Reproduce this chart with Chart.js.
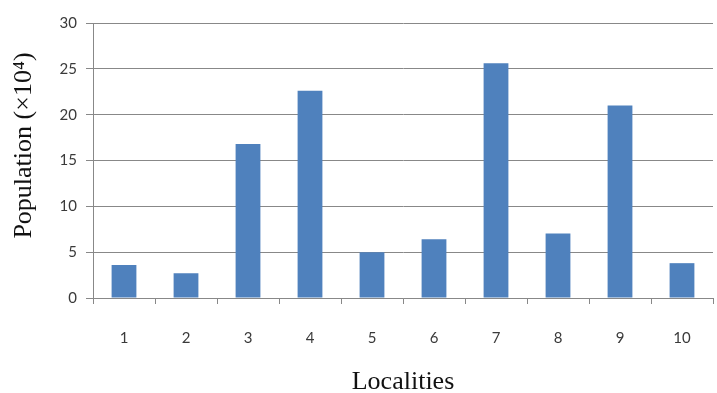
<!DOCTYPE html>
<html>
<head>
<meta charset="utf-8">
<script src="https://cdn.jsdelivr.net/npm/chart.js@4"></script>
<style>
html,body{margin:0;padding:0;background:#fff;}
#wrap{width:717px;height:393px;position:relative;}
</style>
</head>
<body>
<div id="wrap"><canvas id="c" width="717" height="393"></canvas></div>
<script>
const categories = ["1","2","3","4","5","6","7","8","9","10"];
const population = [3.6, 2.7, 16.8, 22.6, 5.0, 6.4, 25.6, 7.05, 21.0, 3.8];
const yTicks = [0, 5, 10, 15, 20, 25, 30];
const xTitle = "Localities";
const yTitle = "Population (×10⁴)";

const gridColor = "#888888";
const titleFont = "26px 'Liberation Serif'";

const yTitlePlugin = {
  id: "yTitle",
  afterDraw(chart) {
    const ctx = chart.ctx;
    const area = chart.chartArea;
    ctx.save();
    ctx.translate(24, (area.top + area.bottom) / 2 - 15);
    ctx.rotate(-Math.PI / 2);
    ctx.font = titleFont;
    ctx.fillStyle = "#111";
    ctx.textAlign = "center";
    ctx.textBaseline = "middle";
    ctx.fillText(yTitle, 0, 0);
    ctx.restore();
  }
};

new Chart(document.getElementById("c"), {
  type: "bar",
  data: {
    labels: categories,
    datasets: [{
      data: population,
      backgroundColor: "#4f81bd",
      borderWidth: 0,
      barPercentage: 0.4,
      categoryPercentage: 1.0
    }]
  },
  options: {
    responsive: false,
    animation: false,
    devicePixelRatio: 1,
    layout: { padding: { top: 23, right: 4, left: 0, bottom: 0 } },
    plugins: { legend: { display: false }, tooltip: { enabled: false } },
    scales: {
      x: {
        grid: { display: true, drawOnChartArea: false, color: gridColor, tickLength: 6, offset: true },
        border: { display: true, color: gridColor },
        ticks: { color: "#3a3a3a", font: { family: "Lato", size: 15 }, padding: 25, maxRotation: 0 },
        title: { display: true, text: xTitle, color: "#111", font: { family: "Liberation Serif", size: 26, lineHeight: 0.85 }, padding: { top: 15, bottom: 0 } },
        afterFit: s => { s.height = 95; }
      },
      y: {
        min: 0, max: 30,
        afterBuildTicks: s => { s.ticks = yTicks.map(v => ({ value: v })); },
        grid: { color: gridColor, tickLength: 7 },
        border: { display: true, color: gridColor },
        ticks: { color: "#3a3a3a", font: { family: "Lato", size: 15 }, padding: 9 },
        title: { display: false },
        afterFit: s => { s.width = 93; }
      }
    }
  },
  plugins: [yTitlePlugin]
});
</script>
</body>
</html>
